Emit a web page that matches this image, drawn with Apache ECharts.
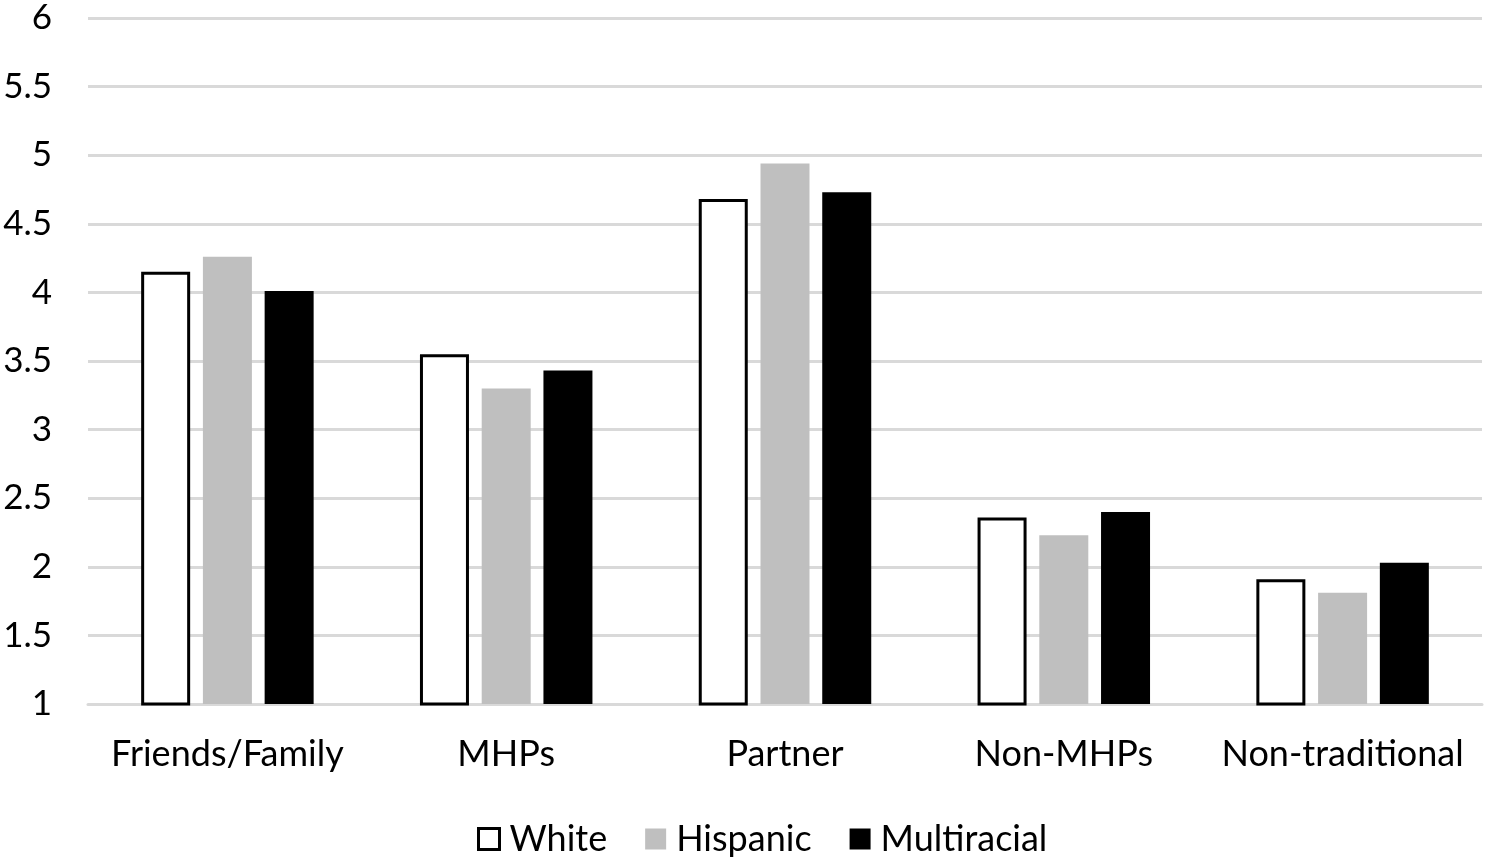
<!DOCTYPE html>
<html>
<head>
<meta charset="utf-8">
<style>
  html, body { margin: 0; padding: 0; background: #fff; }
  #chart { width: 1488px; height: 864px; }
</style>
<script src="https://cdn.jsdelivr.net/npm/echarts@6/dist/echarts.min.js"></script>
</head>
<body>
<div id="chart"></div>
<script>
var categories = ['Friends/Family', 'MHPs', 'Partner', 'Non-MHPs', 'Non-traditional'];
var white = [4.15, 3.55, 4.68, 2.36, 1.91];
var hispanic = [4.26, 3.30, 4.94, 2.23, 1.81];
var multiracial = [4.01, 3.43, 4.73, 2.40, 2.03];

var font = 'Lato, "Noto Sans", sans-serif';
var chart = echarts.init(document.getElementById('chart'));

chart.setOption({
  backgroundColor: '#fff',
  animation: false,
  textStyle: { fontFamily: font },
  grid: { left: 88, right: 6, top: 18, bottom: 160, containLabel: false },
  legend: {
    bottom: 2,
    left: 472,
    icon: 'rect',
    itemWidth: 21,
    itemHeight: 21,
    itemGap: 38,
    textStyle: { fontSize: 36, color: '#000', fontFamily: font, padding: [0, 0, 0, 5] },
    data: [
      { name: 'White', itemStyle: { color: '#fff', borderColor: '#000', borderWidth: 3 } },
      'Hispanic',
      'Multiracial'
    ]
  },
  xAxis: {
    type: 'category',
    data: categories,
    axisLine: { show: true, lineStyle: { color: '#d9d9d9', width: 3 } },
    axisTick: { show: false },
    axisLabel: { interval: 0, fontSize: 36, color: '#000', margin: 32, fontFamily: font }
  },
  yAxis: {
    type: 'value',
    min: 1,
    max: 6,
    interval: 0.5,
    axisLine: { show: false },
    axisTick: { show: false },
    axisLabel: { fontSize: 35, color: '#000', margin: 36, fontFamily: font },
    splitLine: { lineStyle: { color: '#d9d9d9', width: 3 } }
  },
  series: [
    {
      name: 'White',
      type: 'bar',
      data: white,
      barWidth: 49,
      barGap: '26%',
      itemStyle: { color: '#fff', borderColor: '#000', borderWidth: 3 }
    },
    {
      name: 'Hispanic',
      type: 'bar',
      data: hispanic,
      barWidth: 49,
      barGap: '26%',
      itemStyle: { color: '#bfbfbf' }
    },
    {
      name: 'Multiracial',
      type: 'bar',
      data: multiracial,
      barWidth: 49,
      barGap: '26%',
      itemStyle: { color: '#000' }
    }
  ]
});
</script>
</body>
</html>
